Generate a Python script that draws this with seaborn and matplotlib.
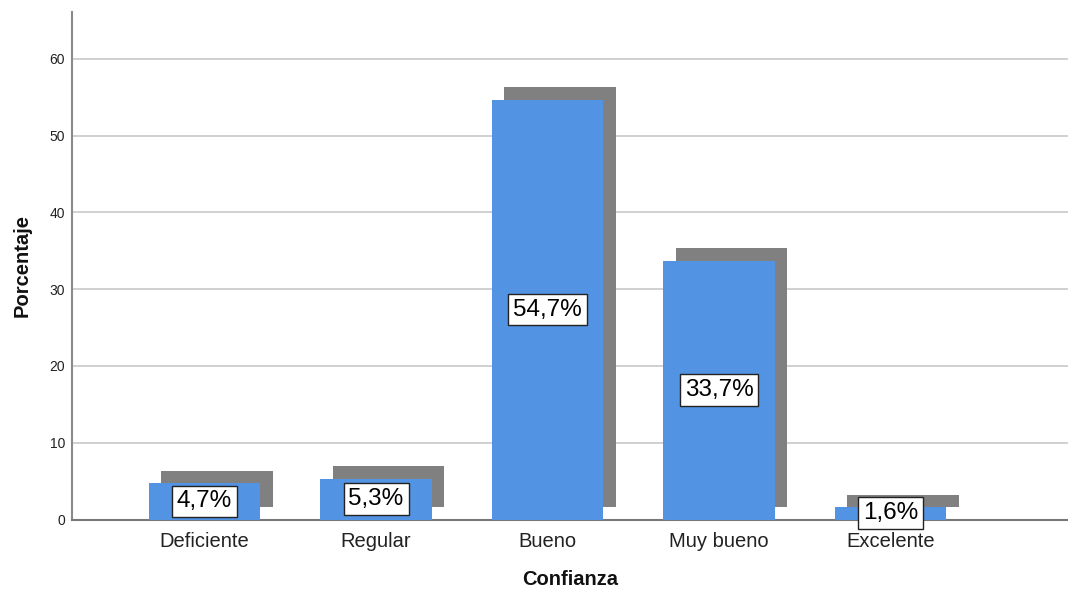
import numpy as np
import pandas as pd
import matplotlib
matplotlib.use("Agg")
import matplotlib.pyplot as plt
import seaborn as sns

categorias = ["Deficiente", "Regular", "Bueno", "Muy bueno", "Excelente"]
porcentajes = [4.7, 5.3, 54.7, 33.7, 1.6]
yticks = [0, 10, 20, 30, 40, 50, 60]

sns.set_theme(style="white")
plt.rcParams["font.family"] = ["Liberation Sans", "DejaVu Sans"]

df = pd.DataFrame({"Confianza": categorias, "Porcentaje": porcentajes})

fig = plt.figure(figsize=(10.68, 5.92), dpi=100)
ax = fig.add_axes([72 / 1068, (592 - 519.5) / 592, (1068 - 72) / 1068, (519.5 - 12) / 592])

bar_w = 0.65
shadow_dx = 0.073
shadow_dy = 1.65

# drop shadow behind each bar
pos = np.arange(len(categorias))
ax.bar(pos + shadow_dx, porcentajes, width=bar_w, bottom=shadow_dy,
       color="#808080", edgecolor="none", zorder=2)

sns.barplot(data=df, x="Confianza", y="Porcentaje", order=categorias,
            color="#5294E3", width=bar_w, saturation=1, edgecolor="none",
            ax=ax, zorder=3)

for i, v in enumerate(porcentajes):
    ax.text(i, v / 2, f"{v:.1f}%".replace(".", ","), ha="center", va="center",
            fontsize=17.5, color="black", zorder=5,
            bbox=dict(boxstyle="square,pad=0.2", facecolor="white",
                      edgecolor="#222222", linewidth=1.0))

ax.set_xlim(-0.773, 5.035)
ax.set_ylim(0, 66.1)
ax.set_yticks(yticks)
ax.yaxis.grid(True, color="#D0D0D0", linewidth=1.4, zorder=0)
ax.set_axisbelow(True)

for s in ["top", "right"]:
    ax.spines[s].set_visible(False)
ax.spines["left"].set_color("#8A8A8A")
ax.spines["left"].set_linewidth(1.5)
ax.spines["bottom"].set_color("#777777")
ax.spines["bottom"].set_linewidth(1.5)

ax.tick_params(axis="y", length=0, pad=5, labelsize=10, labelcolor="#222222")
ax.tick_params(axis="x", length=0, pad=9, labelsize=14.5, labelcolor="#222222")

ax.set_xlabel("Confianza", fontsize=14.5, fontweight="bold", color="#111111", labelpad=14)
ax.set_ylabel("Porcentaje", fontsize=14.5, fontweight="bold", color="#111111", labelpad=13)

fig.savefig("out.png", dpi=100)
